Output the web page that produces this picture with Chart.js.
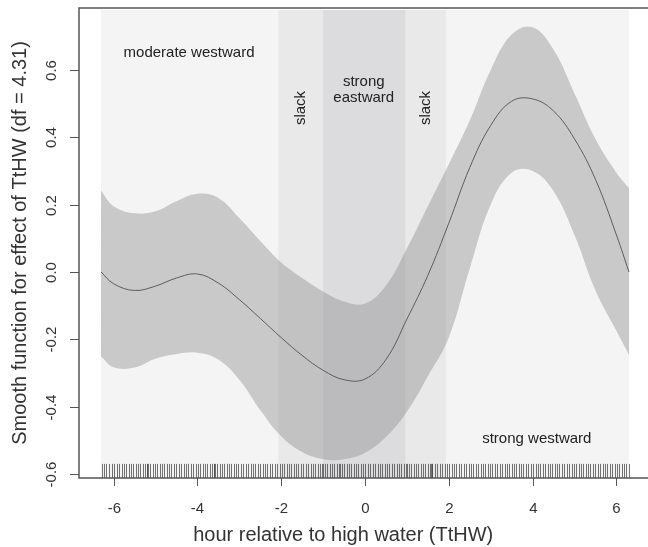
<!DOCTYPE html>
<html>
<head>
<meta charset="utf-8">
<script src="https://cdn.jsdelivr.net/npm/chart.js@4.4.1/dist/chart.umd.min.js"></script>
<style>
  html, body { margin: 0; padding: 0; background: #fff; }
</style>
</head>
<body>
<canvas id="gamChart" width="648" height="547"></canvas>
<script>
// smooth term (hours relative to high water)
const hours = [-6.3, -6.0, -5.5, -5.0, -4.5, -4.0, -3.5, -3.0, -2.5, -2.0, -1.5, -1.0, -0.5, 0.0,
  0.5, 1.0, 1.5, 2.0, 2.5, 3.0, 3.5, 4.0, 4.5, 5.0, 5.5, 6.0, 6.3];
const fitValues = [0.0, -0.035, -0.055, -0.042, -0.018, -0.006, -0.033, -0.082, -0.138, -0.195, -0.248, -0.292, -0.32, -0.318,
  -0.26, -0.14, -0.01, 0.145, 0.31, 0.435, 0.507, 0.514, 0.478, 0.395, 0.275, 0.11, 0.0];
const upperCI = [0.241, 0.195, 0.174, 0.18, 0.21, 0.232, 0.22, 0.16, 0.092, 0.028, -0.018, -0.058, -0.088, -0.094,
  -0.04, 0.07, 0.195, 0.32, 0.45, 0.6, 0.705, 0.727, 0.66, 0.53, 0.395, 0.295, 0.249];
const lowerCI = [-0.251, -0.283, -0.284, -0.258, -0.244, -0.24, -0.26, -0.32, -0.41, -0.488, -0.535, -0.556, -0.556, -0.537,
  -0.49, -0.415, -0.31, -0.195, 0.01, 0.2, 0.295, 0.3, 0.24, 0.11, -0.055, -0.175, -0.246];

// observation times (rug)
const rugHours = [
  -6.28, -6.22, -6.17, -6.11, -6.05,
  -5.98, -5.93, -5.87, -5.81, -5.76, -5.70, -5.64, -5.58, -5.53, -5.47, -5.41, -5.36, -5.30, -5.24, -5.21, -5.21, -5.19, -5.13, -5.07, -5.02,
  -4.96, -4.90, -4.84, -4.79, -4.73, -4.67, -4.62, -4.56, -4.50, -4.44, -4.39, -4.33, -4.27, -4.22, -4.16, -4.10, -4.04,
  -3.99, -3.93, -3.87, -3.82, -3.76, -3.70, -3.64, -3.61, -3.61, -3.59, -3.53, -3.47, -3.42, -3.36, -3.30, -3.24, -3.19, -3.13, -3.07, -3.02,
  -2.96, -2.90, -2.84, -2.79, -2.73, -2.67, -2.62, -2.56, -2.50, -2.44, -2.39, -2.33, -2.27, -2.22, -2.16, -2.10, -2.04,
  -1.99, -1.93, -1.87, -1.82, -1.76, -1.70, -1.64, -1.59, -1.53, -1.47, -1.42, -1.36, -1.30, -1.24, -1.19, -1.13, -1.07, -1.02, -1.00,
  -0.96, -0.90, -0.84, -0.79, -0.73, -0.67, -0.62, -0.60, -0.56, -0.50, -0.44, -0.39, -0.33, -0.27, -0.22, -0.16, -0.10, -0.04,
  0.01, 0.07, 0.13, 0.18, 0.24, 0.30, 0.36, 0.41, 0.47, 0.53, 0.58, 0.64, 0.70, 0.76, 0.81, 0.87, 0.93, 0.98, 1.00,
  1.04, 1.10, 1.16, 1.21, 1.27, 1.33, 1.38, 1.44, 1.50, 1.56, 1.58, 1.61, 1.61, 1.67, 1.73, 1.78, 1.84, 1.90, 1.96,
  2.01, 2.07, 2.13, 2.18, 2.24, 2.30, 2.36, 2.41, 2.47, 2.53, 2.58, 2.64, 2.70, 2.76, 2.81, 2.87, 2.93, 2.98,
  3.04, 3.10, 3.16, 3.21, 3.27, 3.33, 3.38, 3.44, 3.50, 3.56, 3.61, 3.67, 3.73, 3.78, 3.84, 3.90, 3.96,
  4.01, 4.07, 4.13, 4.18, 4.24, 4.30, 4.36, 4.41, 4.47, 4.53, 4.58, 4.64, 4.70, 4.76, 4.81, 4.87, 4.93, 4.98,
  5.04, 5.10, 5.16, 5.21, 5.27, 5.33, 5.38, 5.44, 5.50, 5.56, 5.61, 5.67, 5.73, 5.78, 5.84, 5.90, 5.96,
  6.01, 6.07, 6.13, 6.18, 6.24, 6.30
];

// tidal phases shaded behind the curve
const phaseStart = [-6.3, -2.07, -1.0, 0.97];
const phaseEnd = [6.3, -1.0, 0.97, 1.93];
const phaseColors = ["#f4f4f4", "#e9e9e9", "#dcdcde", "#e9e9e9"];

const xTicks = [-6, -4, -2, 0, 2, 4, 6];
const yTicks = [-0.6, -0.4, -0.2, 0.0, 0.2, 0.4, 0.6];
const yTickLabels = ["-0.6", "-0.4", "-0.2", "0.0", "0.2", "0.4", "0.6"];

const xTitle = "hour relative to high water (TtHW)";
const yTitle = "Smooth function for effect of TtHW (df = 4.31)";

// text labels placed in data units
const notes = [
  { text: "moderate westward", x: -4.2, y: 0.65, rot: 0 },
  { text: "strong", x: -0.03, y: 0.565, rot: 0 },
  { text: "eastward", x: -0.03, y: 0.516, rot: 0 },
  { text: "slack", x: -1.53, y: 0.487, rot: -90 },
  { text: "slack", x: 1.45, y: 0.487, rot: -90 },
  { text: "strong westward", x: 4.1, y: -0.496, rot: 0 }
];

const FONT = "'Liberation Sans', Arial, sans-serif";

const phasePlugin = {
  id: "phases",
  beforeDatasetsDraw(chart) {
    const { ctx, chartArea, scales } = chart;
    ctx.save();
    for (let i = 0; i < phaseStart.length; i++) {
      const x0 = scales.x.getPixelForValue(phaseStart[i]);
      const x1 = scales.x.getPixelForValue(phaseEnd[i]);
      ctx.fillStyle = phaseColors[i];
      ctx.fillRect(x0, chartArea.top + 2, x1 - x0, chartArea.bottom - chartArea.top - 2);
    }
    ctx.restore();
  }
};

const axesPlugin = {
  id: "rAxes",
  afterDatasetsDraw(chart) {
    const { ctx, chartArea, scales } = chart;
    const xs = scales.x, ys = scales.y;
    ctx.save();

    // rug
    ctx.strokeStyle = "rgba(70,70,70,0.75)";
    ctx.lineWidth = 1;
    const rugLen = (chartArea.bottom - chartArea.top) * 0.03;
    rugHours.forEach(h => {
      const px = Math.round(xs.getPixelForValue(h)) + 0.5;
      ctx.beginPath();
      ctx.moveTo(px, chartArea.bottom);
      ctx.lineTo(px, chartArea.bottom - rugLen);
      ctx.stroke();
    });

    // notes
    ctx.fillStyle = "#222";
    ctx.font = "15px " + FONT;
    ctx.textAlign = "center";
    ctx.textBaseline = "middle";
    notes.forEach(n => {
      ctx.save();
      ctx.translate(xs.getPixelForValue(n.x), ys.getPixelForValue(n.y));
      ctx.rotate(n.rot * Math.PI / 180);
      ctx.fillText(n.text, 0, 0);
      ctx.restore();
    });

    // frame (top, left, bottom)
    ctx.strokeStyle = "#555";
    ctx.lineWidth = 1.5;
    ctx.beginPath();
    ctx.moveTo(chartArea.right, chartArea.top);
    ctx.lineTo(chartArea.left, chartArea.top);
    ctx.lineTo(chartArea.left, chartArea.bottom);
    ctx.lineTo(chartArea.right, chartArea.bottom);
    ctx.stroke();

    // ticks + labels
    ctx.lineWidth = 1;
    ctx.fillStyle = "#333";
    ctx.font = "15px " + FONT;
    xTicks.forEach(t => {
      const px = Math.round(xs.getPixelForValue(t)) + 0.5;
      ctx.beginPath();
      ctx.moveTo(px, chartArea.bottom);
      ctx.lineTo(px, chartArea.bottom + 8);
      ctx.stroke();
      ctx.fillText(String(t), px, chartArea.bottom + 31);
    });
    yTicks.forEach((t, i) => {
      const py = Math.round(ys.getPixelForValue(t)) + 0.5;
      ctx.beginPath();
      ctx.moveTo(chartArea.left, py);
      ctx.lineTo(chartArea.left - 9, py);
      ctx.stroke();
      ctx.save();
      ctx.translate(chartArea.left - 27, py);
      ctx.rotate(-Math.PI / 2);
      ctx.fillText(yTickLabels[i], 0, 0);
      ctx.restore();
    });

    // axis titles
    ctx.font = "20px " + FONT;
    ctx.fillText(xTitle, xs.getPixelForValue(-0.52), chartArea.bottom + 57);
    ctx.save();
    ctx.translate(20, (chartArea.top + chartArea.bottom) / 2);
    ctx.rotate(-Math.PI / 2);
    ctx.fillText(yTitle, 0, 0);
    ctx.restore();

    ctx.restore();
  }
};

const ctx = document.getElementById("gamChart").getContext("2d");

new Chart(ctx, {
  type: "line",
  data: {
    datasets: [
      {
        data: hours.map((h, i) => ({ x: h, y: upperCI[i] })),
        borderWidth: 0,
        borderColor: "rgba(0,0,0,0)",
        backgroundColor: "rgba(140,140,143,0.42)",
        fill: "+1",
        tension: 0.4
      },
      {
        data: hours.map((h, i) => ({ x: h, y: lowerCI[i] })),
        borderWidth: 0,
        borderColor: "rgba(0,0,0,0)",
        fill: false,
        tension: 0.4
      },
      {
        data: hours.map((h, i) => ({ x: h, y: fitValues[i] })),
        borderWidth: 1,
        borderColor: "#3a3a3a",
        fill: false,
        tension: 0.4
      }
    ]
  },
  options: {
    responsive: false,
    animation: false,
    devicePixelRatio: 1,
    layout: { padding: { left: 79, top: 8, right: 0, bottom: 69 } },
    elements: { point: { radius: 0 } },
    plugins: {
      legend: { display: false },
      tooltip: { enabled: false }
    },
    scales: {
      x: { type: "linear", min: -6.826, max: 6.754, display: false },
      y: { type: "linear", min: -0.612, max: 0.784, display: false }
    }
  },
  plugins: [phasePlugin, axesPlugin]
});
</script>
</body>
</html>
